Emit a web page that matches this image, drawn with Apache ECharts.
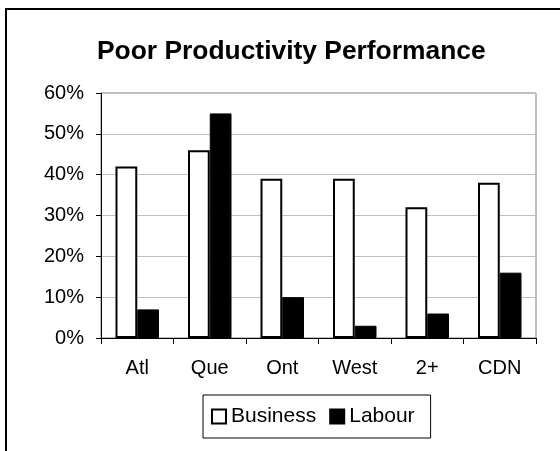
<!DOCTYPE html>
<html>
<head>
<meta charset="utf-8">
<script src="https://cdn.jsdelivr.net/npm/echarts@6/dist/echarts.min.js"></script>
<style>
html, body { margin: 0; padding: 0; background: #fff; }
#chart { width: 560px; height: 451px; }
</style>
</head>
<body>
<div id="chart"></div>
<script>
var regions = ['Atl', 'Que', 'Ont', 'West', '2+', 'CDN'];
var business = [42, 46, 39, 39, 32, 38];
var labour = [7, 55, 10, 3, 6, 16];
var yTicks = { min: 0, max: 60, interval: 10 };

var font = '"Liberation Sans", Arial, sans-serif';
var myChart = echarts.init(document.getElementById('chart'));

var option = {
    backgroundColor: '#fff',
    animation: false,
    title: {
        text: 'Poor Productivity Performance',
        left: 92,
        top: 34,
        textStyle: {
            fontFamily: font,
            fontWeight: 'bold',
            fontSize: 26.4,
            color: '#000'
        }
    },
    // outer frame, only left and top are visible in the picture
    graphic: [{
        type: 'rect',
        shape: { x: 6, y: 9, width: 620, height: 520 },
        style: { fill: 'none', stroke: '#000', lineWidth: 2 },
        silent: true
    }],
    legend: {
        data: ['Business', 'Labour'],
        icon: 'rect',
        left: 203,
        top: 395,
        orient: 'horizontal',
        itemWidth: 14,
        itemHeight: 14,
        itemGap: 13,
        padding: [11, 16, 11, 8],
        borderColor: '#000',
        borderWidth: 1,
        textStyle: {
            fontFamily: font,
            fontSize: 21,
            color: '#000'
        }
    },
    grid: {
        left: 101,
        right: 24,
        top: 93,
        bottom: 113,
        show: true,
        borderColor: '#808080',
        borderWidth: 1
    },
    xAxis: {
        type: 'category',
        data: regions,
        axisLine: { lineStyle: { color: '#000', width: 1 } },
        axisTick: { show: true, length: 6, lineStyle: { color: '#000' } },
        axisLabel: {
            margin: 20,
            fontFamily: font,
            fontSize: 20,
            color: '#000'
        }
    },
    yAxis: {
        type: 'value',
        min: yTicks.min,
        max: yTicks.max,
        interval: yTicks.interval,
        axisLine: { show: true, lineStyle: { color: '#000', width: 1 } },
        axisTick: { show: true, length: 5, lineStyle: { color: '#000' } },
        splitLine: { lineStyle: { color: '#c0c0c0', width: 1 } },
        axisLabel: {
            formatter: '{value}%',
            margin: 17,
            fontFamily: font,
            fontSize: 20,
            color: '#000'
        }
    },
    series: [{
        name: 'Business',
        type: 'bar',
        data: business,
        barGap: '0%',
        barCategoryGap: '40%',
        itemStyle: { color: '#fff', borderColor: '#000', borderWidth: 2 }
    }, {
        name: 'Labour',
        type: 'bar',
        data: labour,
        itemStyle: { color: '#000', borderColor: '#000', borderWidth: 1 }
    }]
};

myChart.setOption(option);
</script>
</body>
</html>
